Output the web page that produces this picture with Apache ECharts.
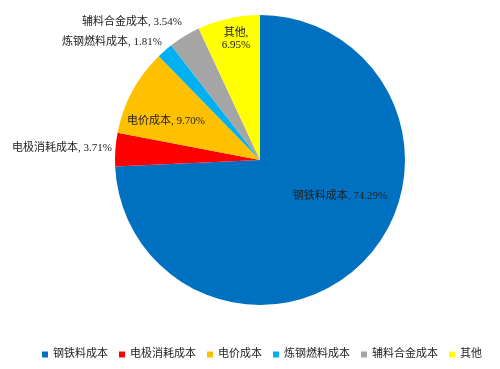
<!DOCTYPE html>
<html><head><meta charset="utf-8">
<script src="https://cdn.jsdelivr.net/npm/echarts@6/dist/echarts.min.js"></script>
<style>html,body{margin:0;padding:0;background:#fff}#c{width:500px;height:369px}</style>
</head><body><div id="c"></div>
<script>
const categories = ['钢铁料成本','电极消耗成本','电价成本','炼钢燃料成本','辅料合金成本','其他'];
const values = [74.29, 3.71, 9.70, 1.81, 3.54, 6.95];
const colors = ['#0070C0','#FF0000','#FFC000','#00B0F0','#A5A5A5','#FFFF00'];
const labelTexts = ['钢铁料成本, 74.29%','电极消耗成本, 3.71%','电价成本, 9.70%','炼钢燃料成本, 1.81%','辅料合金成本, 3.54%','其他,\n6.95%'];
const labelPos = [
  {x:340,y:196,align:'center'},
  {x:112,y:148,align:'right'},
  {x:166,y:121,align:'center'},
  {x:162,y:42,align:'right'},
  {x:182,y:22,align:'right'},
  {x:236,y:39,align:'center'}
];
const font = '"Liberation Serif","Noto Sans CJK SC",serif';
const chart = echarts.init(document.getElementById('c'), null, {renderer:'canvas'});
chart.setOption({
  animation:false,
  color: colors,
  legend:{
    left:37, top:344, itemWidth:6, itemHeight:6, itemGap:11, icon:'rect',
    textStyle:{fontFamily:font, fontSize:11, color:'#222'},
    data: categories
  },
  series:[{
    type:'pie',
    center:[260,160],
    radius:145,
    startAngle:90,
    clockwise:true,
    label:{
      show:true,
      position:'inside',
      fontFamily:font,
      fontSize:11,
      color:'#222',
      lineHeight:12,
      formatter: p => labelTexts[p.dataIndex]
    },
    labelLine:{show:false},
    labelLayout: p => Object.assign({verticalAlign:'middle'}, labelPos[p.dataIndex]),
    itemStyle:{borderWidth:0},
    emphasis:{disabled:true},
    data: categories.map((n,i)=>({name:n, value:values[i]}))
  }]
});
</script></body></html>
